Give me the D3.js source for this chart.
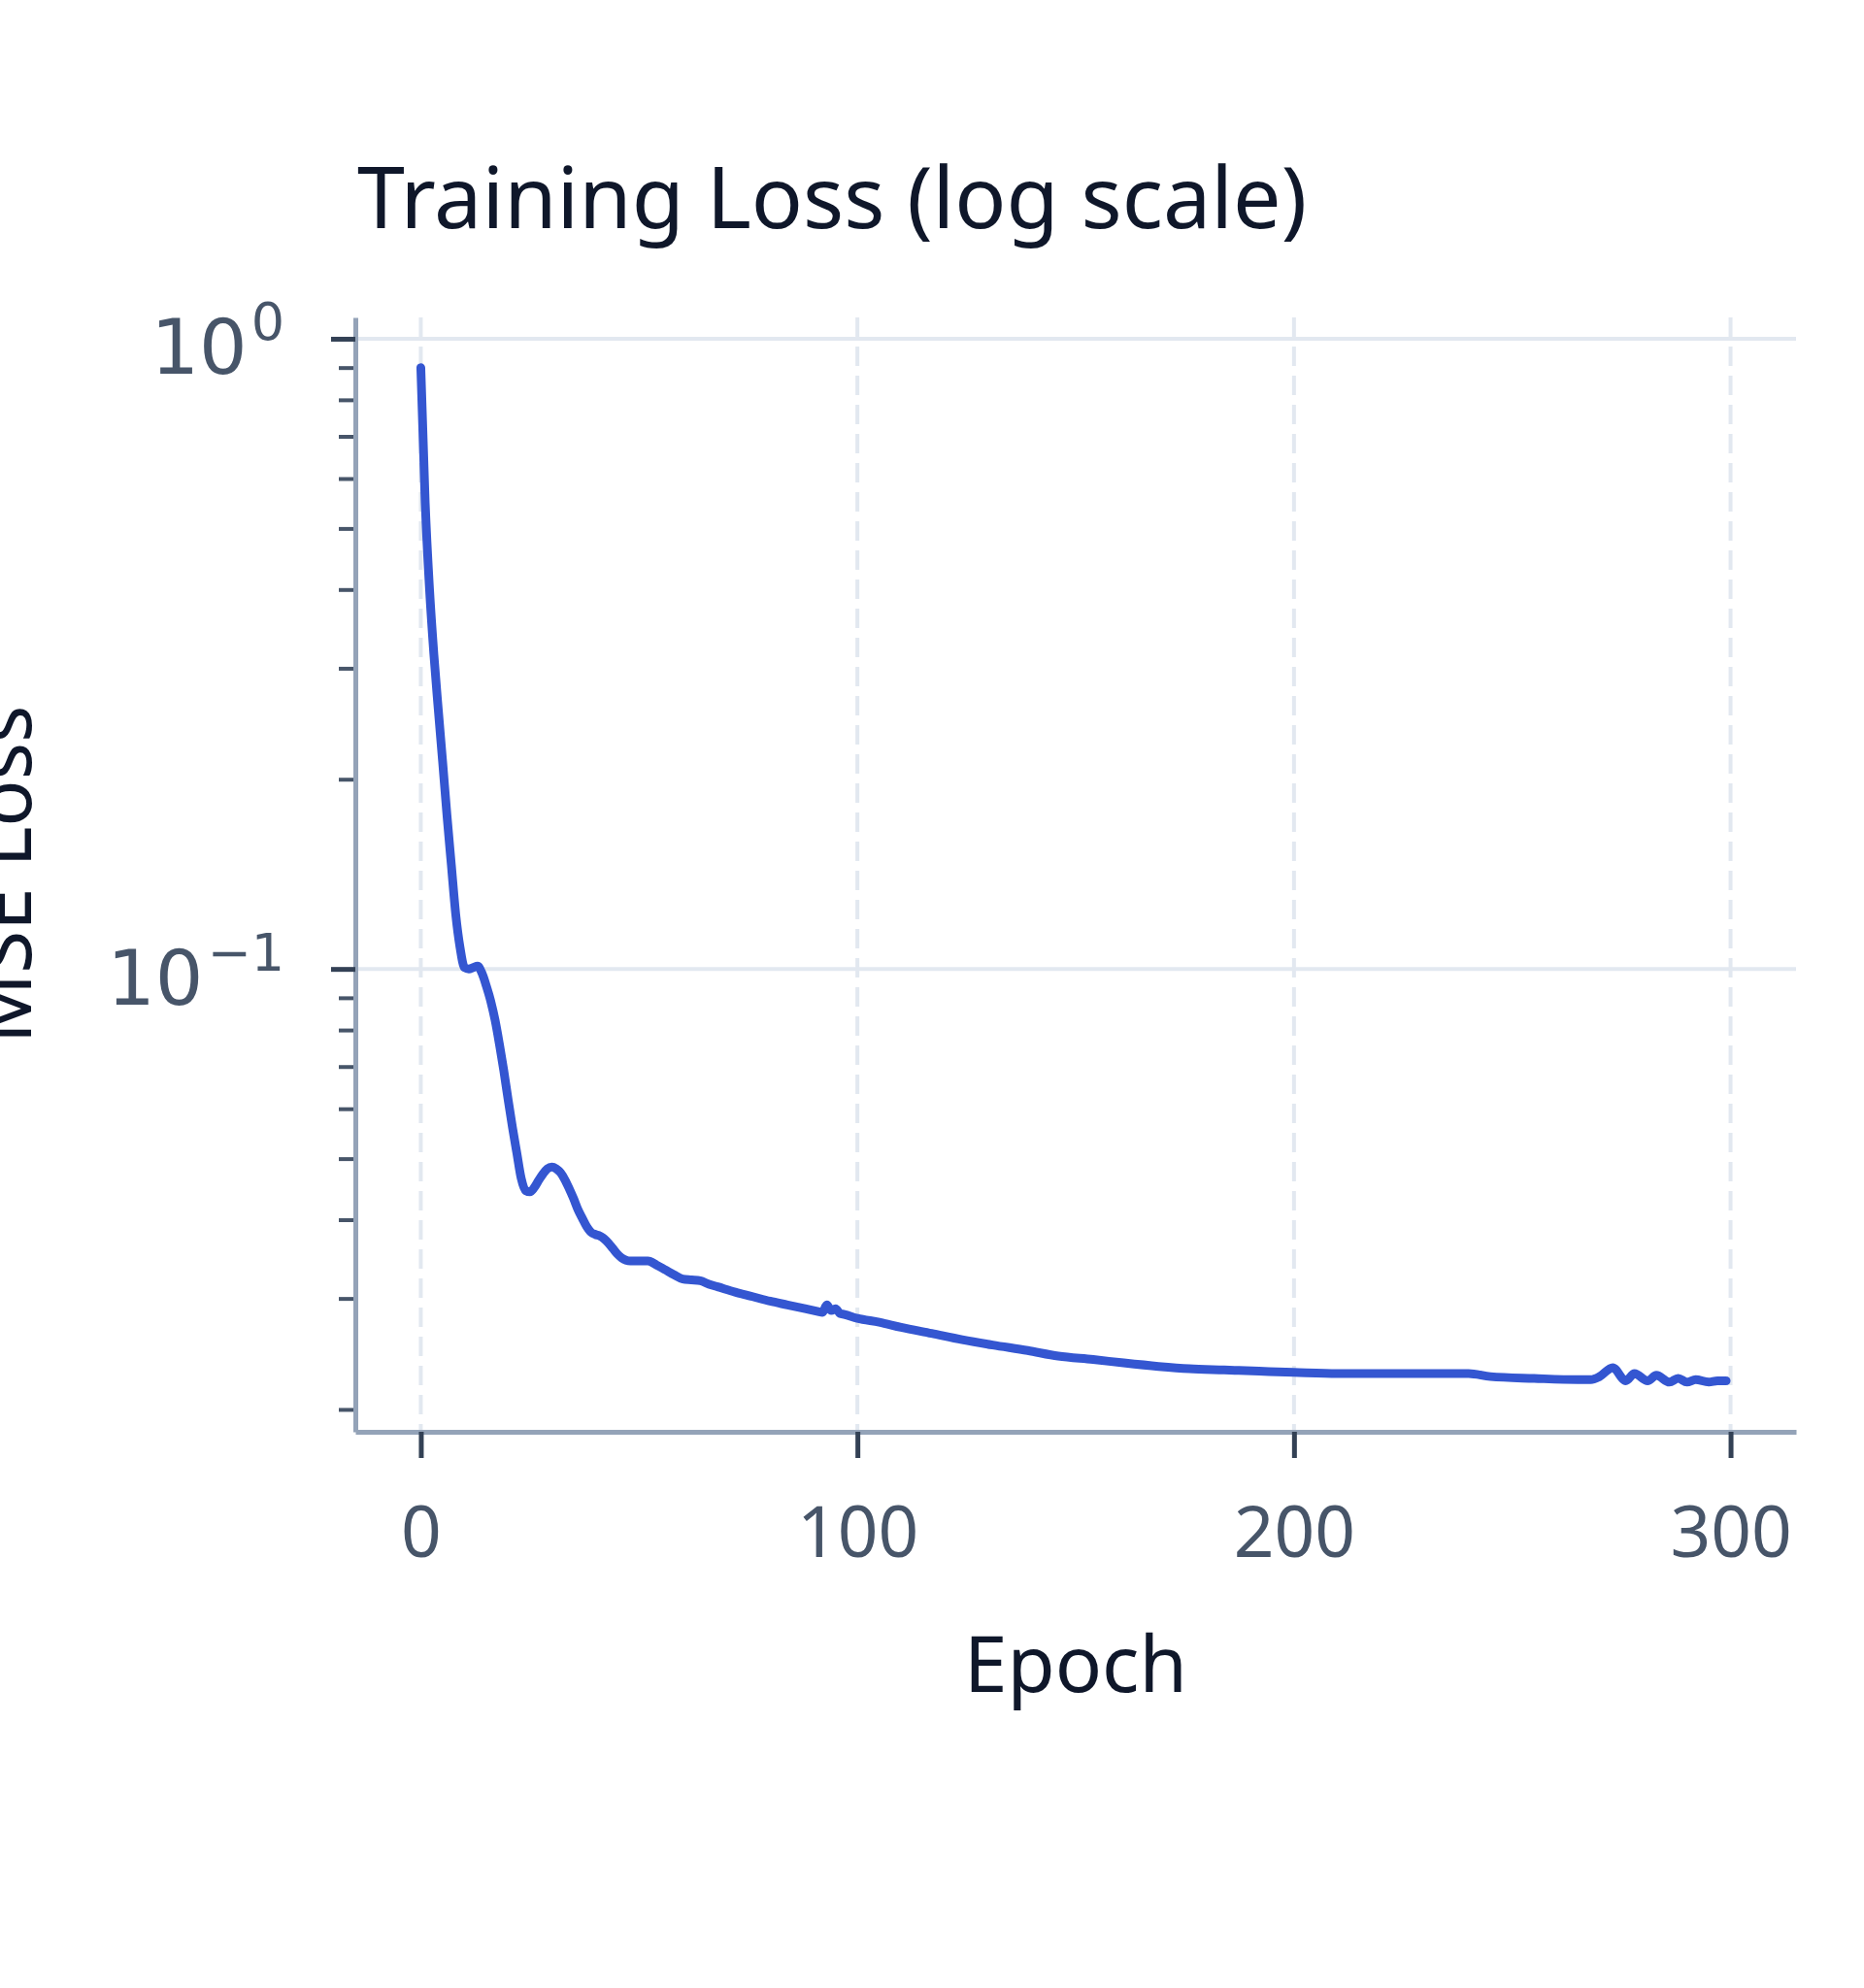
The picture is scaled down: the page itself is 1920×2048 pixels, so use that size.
<!DOCTYPE html>
<html>
  <head>
    <meta charset="utf-8">
    <title>Training Loss (log scale)</title>
    <script src="https://cdn.jsdelivr.net/npm/d3@7"></script>
    <style>
      body { margin: 0; background: #ffffff; }
      svg { display: block; }
    </style>
  </head>

  <body>
    <svg id="chart"></svg>

    <script>
      // data
      epochs = [0, 1, 2, 3, 4, 5, 6, 7, 8, 9,
        10, 11, 12, 13, 14, 15, 16, 17, 18, 19,
        20, 21, 22, 23, 24, 25, 26, 27, 28, 29,
        30, 31, 32, 33, 34, 35, 36, 37, 38, 39,
        40, 41, 42, 43, 44, 45, 46, 47, 48, 50,
        52, 54, 56, 58, 60, 62, 64, 66, 68, 72,
        76, 80, 84, 88, 91, 92, 93, 94, 95, 96,
        97, 100, 105, 110, 117, 124, 131, 139, 146, 154,
        161, 169, 176, 184, 192, 200, 210, 220, 230, 240,
        245, 255, 265, 268, 270, 273, 276, 278, 281, 283,
        286, 288, 290, 292, 295, 297, 299];
      loss = [0.90, 0.55, 0.40, 0.315, 0.258, 0.213, 0.175, 0.146, 0.122, 0.108,
        0.1005, 0.1000, 0.1005, 0.1010, 0.0985, 0.094, 0.089, 0.083, 0.076, 0.069,
        0.062, 0.056, 0.051, 0.0465, 0.0445, 0.0443, 0.0450, 0.0462, 0.0473, 0.0482,
        0.0485, 0.0482, 0.0475, 0.0463, 0.0448, 0.0432, 0.0415, 0.0402, 0.0390, 0.0382,
        0.0379, 0.0377, 0.0373, 0.0367, 0.0360, 0.0353, 0.0348, 0.0345, 0.0344, 0.0344,
        0.0344, 0.0339, 0.0333, 0.0327, 0.0322, 0.0321, 0.0320, 0.0316, 0.0313, 0.0307,
        0.0302, 0.0297, 0.0293, 0.0289, 0.0286, 0.0285, 0.0293, 0.0287, 0.0289, 0.0284,
        0.0283, 0.0279, 0.0275, 0.0270, 0.0264, 0.0258, 0.0253, 0.0248, 0.0243, 0.0240,
        0.0237, 0.0234, 0.0232, 0.0231, 0.0230, 0.0229, 0.0228, 0.0228, 0.0228, 0.0228,
        0.02255, 0.0224, 0.0223, 0.0223, 0.02255, 0.0233, 0.0222, 0.0228, 0.0222, 0.02265,
        0.0221, 0.0224, 0.0221, 0.0223, 0.0221, 0.0222, 0.0222];

      xTicks = [0, 100, 200, 300];
      yMajor = [1, 0.1];
      yExponents = ["0", "\u22121"];
      yMinor = [0.9, 0.8, 0.7, 0.6, 0.5, 0.4, 0.3, 0.2,
        0.09, 0.08, 0.07, 0.06, 0.05, 0.04, 0.03, 0.02];

      chartTitle = "Training Loss (log scale)";
      xTitle = "Epoch";
      yTitle = "MSE Loss";

      // frame
      width = 1920;
      height = 2048;
      plotLeft = 366;
      plotRight = 1850;
      plotTop = 327;
      plotBottom = 1475;

      chart = d3.select("#chart")
        .attr("width", width)
        .attr("height", height);

      x = d3.scaleLinear().domain([-15, 315]).range([plotLeft, plotRight]);
      y = d3.scaleLog().domain([0.01843, 1.081]).range([plotBottom, plotTop]);

      // grid
      chart.append("g")
        .selectAll("line")
          .data(yMajor)
        .enter().append("line")
          .attr("x1", plotLeft)
          .attr("x2", plotRight)
          .attr("y1", function(d) { return y(d); })
          .attr("y2", function(d) { return y(d); })
          .attr("stroke", "#e2e8f0")
          .attr("stroke-width", 4);

      chart.append("g")
        .selectAll("line")
          .data(xTicks)
        .enter().append("line")
          .attr("x1", function(d) { return x(d); })
          .attr("x2", function(d) { return x(d); })
          .attr("y1", plotTop)
          .attr("y2", plotBottom)
          .attr("stroke", "#e2e8f0")
          .attr("stroke-width", 4)
          .attr("stroke-dasharray", "20,10");

      // loss line
      lossLine = d3.line()
        .x(function(d) { return x(d); })
        .y(function(d, i) { return y(loss[i]); })
        .curve(d3.curveMonotoneX);

      chart.append("path")
        .attr("d", lossLine(epochs))
        .attr("fill", "none")
        .attr("stroke", "#3456d1")
        .attr("stroke-width", 9)
        .attr("stroke-linejoin", "round")
        .attr("stroke-linecap", "round");

      // minor y ticks
      minorAxis = chart.append("g")
        .attr("transform", "translate(" + plotLeft + ",0)")
        .call(d3.axisLeft(y).tickValues(yMinor).tickSize(17).tickSizeOuter(0).tickFormat(""));
      minorAxis.select(".domain").remove();
      minorAxis.selectAll(".tick line")
        .attr("stroke", "#475569")
        .attr("stroke-width", 4);

      // major y ticks
      yAxis = chart.append("g")
        .attr("transform", "translate(" + plotLeft + ",0)")
        .call(d3.axisLeft(y).tickValues(yMajor).tickSize(25).tickSizeOuter(0).tickPadding(48).tickFormat(""));
      yAxis.select(".domain")
        .attr("stroke", "#94a3b8")
        .attr("stroke-width", 5);
      yAxis.selectAll(".tick line")
        .attr("stroke", "#334155")
        .attr("stroke-width", 5);
      yAxis.selectAll(".tick text")
        .attr("dy", 36)
        .attr("fill", "#475569")
        .style("font-family", "'DejaVu Sans'")
        .style("font-size", "78px")
        .each(function(d, i) {
          tickLabel = d3.select(this);
          tickLabel.append("tspan").text("10");
          tickLabel.append("tspan")
            .attr("dx", 4)
            .attr("dy", -35)
            .style("font-size", "54px")
            .text(yExponents[i]);
        });

      // x axis
      xAxis = chart.append("g")
        .attr("transform", "translate(0," + plotBottom + ")")
        .call(d3.axisBottom(x).tickValues(xTicks).tickSize(27).tickSizeOuter(0).tickPadding(50));
      xAxis.select(".domain")
        .attr("stroke", "#94a3b8")
        .attr("stroke-width", 5);
      xAxis.selectAll(".tick line")
        .attr("stroke", "#334155")
        .attr("stroke-width", 5);
      xAxis.selectAll(".tick text")
        .attr("fill", "#475569")
        .style("font-family", "'Noto Sans'")
        .style("font-size", "73px");

      // titles
      chart.append("text")
        .attr("x", 368)
        .attr("y", 235)
        .attr("fill", "#0f172a")
        .style("font-family", "'Noto Sans'")
        .style("font-size", "88px")
        .text(chartTitle);

      chart.append("text")
        .attr("x", (plotLeft + plotRight) / 2)
        .attr("y", 1743)
        .attr("text-anchor", "middle")
        .attr("fill", "#0f172a")
        .style("font-family", "'Noto Sans'")
        .style("font-size", "80px")
        .text(xTitle);

      chart.append("text")
        .attr("transform", "translate(32," + (plotTop + plotBottom) / 2 + ") rotate(-90)")
        .attr("text-anchor", "middle")
        .attr("fill", "#0f172a")
        .style("font-family", "'Noto Sans'")
        .style("font-size", "80px")
        .text(yTitle);
    </script>
  </body>
</html>
